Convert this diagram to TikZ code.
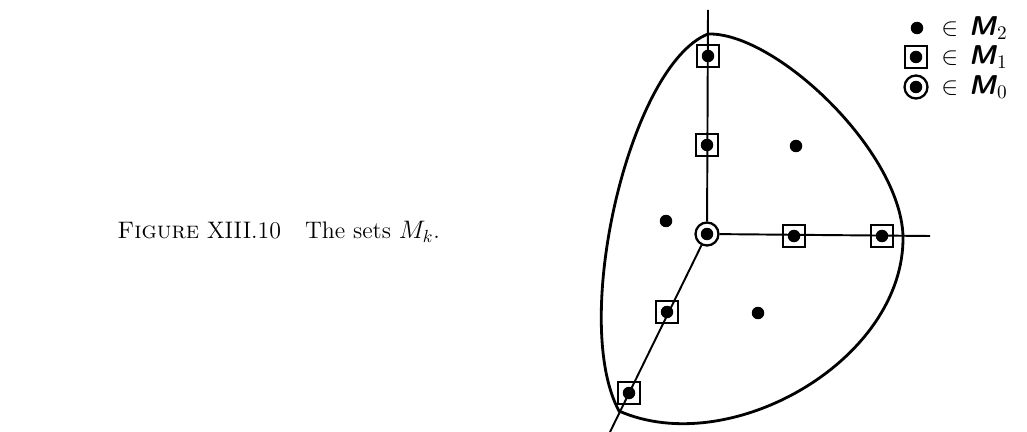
\documentclass[tikz,border=0pt]{standalone}
\usepackage{amsmath, amssymb}
\usepackage{tikz}
\usetikzlibrary{positioning}

\begin{document}
\begin{tikzpicture}[x=0.02cm, y=-0.02cm,
  mtwo/.style={circle, fill=black, inner sep=0pt, minimum size=0.25cm},
  mone/.style={rectangle, draw=black, line width=1.3pt, inner sep=0pt, minimum size=0.44cm,
    path picture={\fill (path picture bounding box.center) circle (0.125cm);}},
  mzero/.style={circle, draw=black, line width=1.3pt, inner sep=0pt, minimum size=0.46cm,
    path picture={\fill (path picture bounding box.center) circle (0.125cm);}},
  ax/.style={line width=1.1pt},
  rim/.style={line width=1.6pt},
  lgd/.style={anchor=west, inner sep=0pt, font=\fontsize{15.5}{17}\selectfont},
]
  \useasboundingbox (0,0) rectangle (1027,432);
  % caption
  \node[anchor=west, font=\fontsize{13.6}{16}\selectfont, inner sep=0pt] (cap) at (117,232)
    {\textsc{Figure} XIII.10\quad The sets $M_k$.};
  % the closed region
  \draw[rim] (708,34) .. controls (775,32) and (900,150) .. (903,236)
    .. controls (905,360) and (730,460) .. (619,411)
    .. controls (570,320) and (630,65) .. cycle;
  % axes
  \node[mzero] (O) at (707,234) {};
  \coordinate (ytop) at (708,10);
  \coordinate (xend) at (930,236);
  \coordinate (zend) at (610,432);
  \draw[ax] (O) -- (ytop);
  \draw[ax] (O) -- (xend);
  \draw[ax] (O) -- (zend);
  % points of M_1
  \foreach \p/\x/\y in {u1/707/145, u2/708/56, r1/794/236, r2/882/236, d1/667/312, d2/629/393}
    \node[mone] (\p) at (\x,\y) {};
  % points of M_2
  \foreach \p/\x/\y in {q1/796/146, q2/666/221, q3/758/313}
    \node[mtwo] (\p) at (\x,\y) {};
  % legend
  \node[mtwo] (k2) at (917,28) {};
  \node[mone] (k1) at (916,57) {};
  \node[mzero] (k0) at (916,87) {};
  \node[lgd] (t2) at (941,28) {$\in$\hspace{0.4em}\textsf{\bfseries\slshape M}$_2$};
  \node[lgd] (t1) at (941,57) {$\in$\hspace{0.4em}\textsf{\bfseries\slshape M}$_1$};
  \node[lgd] (t0) at (941,87) {$\in$\hspace{0.4em}\textsf{\bfseries\slshape M}$_0$};
\end{tikzpicture}
\end{document}
